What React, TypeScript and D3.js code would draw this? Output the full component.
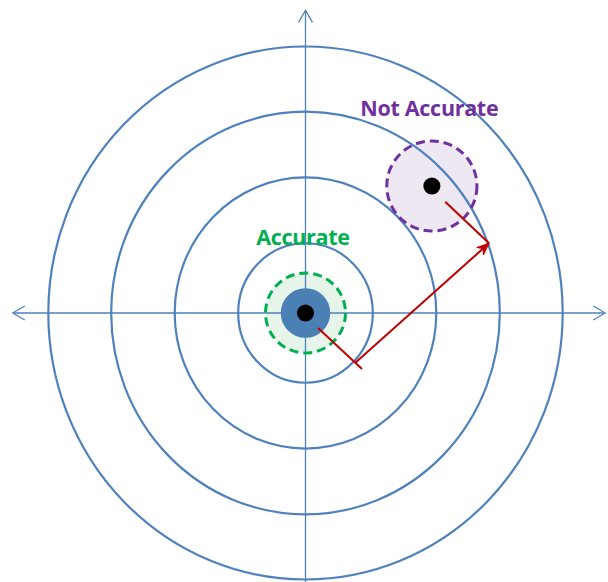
import React from "react";
import * as d3 from "d3";

const WIDTH = 608;
const HEIGHT = 582;
const CENTER = { x: 305.5, y: 313 };

// target rings, in target units
const rings = [1.06, 2.06, 3.06, 4.05];

// axis extents [from, to]
const xAxisExtent: [number, number] = [-4.61, 4.72];
const yAxisExtent: [number, number] = [-4.09, 4.6];

// groups of shots: centre, spread radius, inner disc radius
const accurate = { x: 0, y: 0, spread: 0.63, core: 0.39, dot: 0.135 };
const notAccurate = { x: 1.99, y: 1.93, spread: 0.71, dot: 0.135 };

// red error lines
const errLines: [number, number, number, number][] = [
  [0.197, -0.228, 0.89, -0.85],
  [2.2, 1.69, 2.89, 1.06],
];
const errArrow: [number, number, number, number] = [0.78, -0.76, 2.89, 1.06];

const labels = [
  { text: "Accurate", x: -0.04, y: 1.17, color: "#00b050" },
  { text: "Not Accurate", x: 1.95, y: 3.12, color: "#7030a0" },
];

const BLUE = "#4f81bd";
const RED = "#c00000";

export default function App() {
  const x = d3.scaleLinear().domain([0, 1]).range([CENTER.x, CENTER.x + 63.5]);
  const y = d3.scaleLinear().domain([0, 1]).range([CENTER.y, CENTER.y - 65.8]);
  const rx = (v: number) => x(v) - x(0);
  const ry = (v: number) => y(0) - y(v);

  const dashed = { strokeWidth: 3, strokeDasharray: "9 5", fill: "none" };

  return (
    <svg
      width={WIDTH}
      height={HEIGHT}
      style={{ position: "absolute", left: 0, top: 0, background: "#fff" }}
    >
      <defs>
        <marker
          id="blueArrow"
          viewBox="0 0 14 16"
          refX={13}
          refY={8}
          markerWidth={14}
          markerHeight={16}
          markerUnits="userSpaceOnUse"
          orient="auto-start-reverse"
        >
          <path d="M1,1 L13,8 L1,15" fill="none" stroke={BLUE} strokeWidth={1.3} />
        </marker>
        <marker
          id="redArrow"
          viewBox="0 0 14 12"
          refX={13}
          refY={6}
          markerWidth={14}
          markerHeight={12}
          markerUnits="userSpaceOnUse"
          orient="auto"
        >
          <path d="M1,1 L13,6 L1,11 L5,6 Z" fill={RED} stroke={RED} strokeWidth={1} />
        </marker>
      </defs>

      {/* spread fills under everything */}
      <circle cx={x(accurate.x)} cy={y(accurate.y)} r={rx(accurate.spread)} fill="#e6f4ea" />
      <circle cx={x(notAccurate.x)} cy={y(notAccurate.y)} r={rx(notAccurate.spread)} fill="#eee8f3" />

      {/* axes */}
      <line
        x1={x(xAxisExtent[0])}
        x2={x(xAxisExtent[1])}
        y1={y(0)}
        y2={y(0)}
        stroke={BLUE}
        strokeWidth={1.3}
        markerStart="url(#blueArrow)"
        markerEnd="url(#blueArrow)"
      />
      <line
        x1={x(0)}
        x2={x(0)}
        y1={y(yAxisExtent[0])}
        y2={y(yAxisExtent[1])}
        stroke={BLUE}
        strokeWidth={1.3}
        markerEnd="url(#blueArrow)"
      />

      {/* rings */}
      {rings.map((r) => (
        <ellipse
          key={r}
          cx={x(0)}
          cy={y(0)}
          rx={rx(r)}
          ry={ry(r)}
          fill="none"
          stroke={BLUE}
          strokeWidth={2.2}
        />
      ))}

      {/* accurate group */}
      <circle cx={x(accurate.x)} cy={y(accurate.y)} r={rx(accurate.spread)} stroke="#00b050" {...dashed} />
      <circle cx={x(accurate.x)} cy={y(accurate.y)} r={rx(accurate.core)} fill="#4a80b3" />
      <circle cx={x(accurate.x)} cy={y(accurate.y)} r={rx(accurate.dot)} fill="#000" />

      {/* not accurate group */}
      <circle cx={x(notAccurate.x)} cy={y(notAccurate.y)} r={rx(notAccurate.spread)} stroke="#7030a0" {...dashed} />
      <circle cx={x(notAccurate.x)} cy={y(notAccurate.y)} r={rx(notAccurate.dot)} fill="#000" />

      {/* error lines */}
      {errLines.map((l, i) => (
        <line
          key={i}
          x1={x(l[0])}
          y1={y(l[1])}
          x2={x(l[2])}
          y2={y(l[3])}
          stroke={RED}
          strokeWidth={2}
        />
      ))}
      <line
        x1={x(errArrow[0])}
        y1={y(errArrow[1])}
        x2={x(errArrow[2])}
        y2={y(errArrow[3])}
        stroke={RED}
        strokeWidth={2}
        markerEnd="url(#redArrow)"
      />

      {labels.map((d) => (
        <text
          key={d.text}
          x={x(d.x)}
          y={y(d.y)}
          textAnchor="middle"
          dominantBaseline="central"
          fill={d.color}
          fontFamily="'Open Sans', sans-serif"
          fontWeight={700}
          fontSize={21.5}
          letterSpacing={-0.3}
        >
          {d.text}
        </text>
      ))}
    </svg>
  );
}
